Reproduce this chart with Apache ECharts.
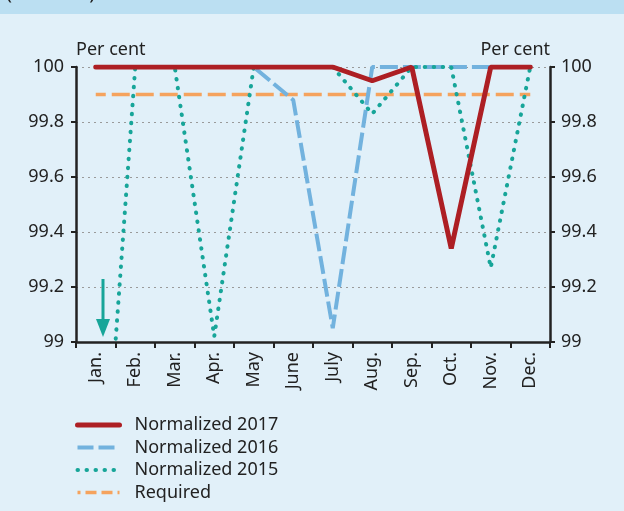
<!DOCTYPE html>
<html>
<head>
<meta charset="utf-8">
<style>
  html, body { margin: 0; padding: 0; background: #e1f0f9; }
  #chart { width: 624px; height: 511px; }
</style>
<script src="https://cdn.jsdelivr.net/npm/echarts@6/dist/echarts.min.js"></script>
</head>
<body>
<div id="chart"></div>
<script>
// 数据
var months = ['Jan.', 'Feb.', 'Mar.', 'Apr.', 'May', 'June', 'July', 'Aug.', 'Sep.', 'Oct.', 'Nov.', 'Dec.'];
var norm2017 = [100, 100, 100, 100, 100, 100, 100, 99.95, 100, 99.34, 100, 100];
var norm2016 = [100, 100, 100, 100, 100, 99.88, 99.05, 100, 100, 100, 100, 100];
var norm2015 = [98, 100, 100, 99.02, 100, 100, 100, 99.83, 100, 100, 99.27, 100];
var required = [99.9, 99.9, 99.9, 99.9, 99.9, 99.9, 99.9, 99.9, 99.9, 99.9, 99.9, 99.9];

var font = 'Noto Sans';
var chart = echarts.init(document.getElementById('chart'));

var red = '#ad1f24', blue = '#72b2de', green = '#17a599', orange = '#f5a35e';

var yAxisBase = {
    type: 'value',
    min: 99,
    max: 100,
    interval: 0.2,
    nameTextStyle: { color: '#222', fontSize: 18, fontFamily: font },
    axisLine: { show: true, lineStyle: { color: '#222', width: 2.5 } },
    axisTick: { show: true, length: 5, lineStyle: { color: '#222', width: 2 } },
    axisLabel: { color: '#222', fontSize: 18, fontFamily: font, margin: 12 },
    splitLine: { show: true, lineStyle: { color: '#9a9a9a', type: [2, 4], width: 1 } }
};

var option = {
    backgroundColor: '#e1f0f9',
    animation: false,
    grid: { left: 76, right: 74, top: 67, bottom: 169 },
    graphic: [
        { type: 'rect', left: 0, top: 0, shape: { width: 624, height: 14 }, style: { fill: '#bbdff2' } },
        { type: 'text', left: 6, top: -17, style: { text: '(Per cent)', fontSize: 20, fontFamily: font, fill: '#222' } },
        // 箭头
        { type: 'line', shape: { x1: 103, y1: 279, x2: 103, y2: 322 }, style: { stroke: green, lineWidth: 3 } },
        { type: 'polygon', shape: { points: [[96, 319], [110, 319], [103, 337]] }, style: { fill: green } }
    ],
    legend: {
        orient: 'vertical',
        left: 75,
        top: 416,
        padding: 0,
        itemWidth: 42,
        itemHeight: 14,
        itemGap: 4.5,
        itemStyle: { opacity: 0 },
        textStyle: { color: '#222', fontSize: 18, lineHeight: 18, fontFamily: font, padding: [0, 0, 0, 10] },
        data: [
            { name: 'Normalized 2017', lineStyle: { color: red, width: 5, cap: 'round' } },
            { name: 'Normalized 2016', lineStyle: { color: blue, width: 4, type: [16, 5] } },
            { name: 'Normalized 2015', lineStyle: { color: green, width: 4, type: [0.5, 8.5], cap: 'round' } },
            { name: 'Required', lineStyle: { color: orange, width: 3.5, type: [11, 5] } }
        ]
    },
    xAxis: {
        type: 'category',
        data: months,
        boundaryGap: true,
        axisLine: { lineStyle: { color: '#222', width: 2.5 } },
        axisTick: { show: true, length: 6, lineStyle: { color: '#222', width: 2 } },
        axisLabel: { color: '#222', fontSize: 18, fontFamily: font, rotate: 90, margin: 10 }
    },
    yAxis: [
        Object.assign({}, yAxisBase, {
            position: 'left',
            name: 'Per cent',
            nameGap: 8,
            nameTextStyle: Object.assign({}, yAxisBase.nameTextStyle, { align: 'left' })
        }),
        Object.assign({}, yAxisBase, {
            position: 'right',
            name: 'Per cent',
            nameGap: 8,
            nameTextStyle: Object.assign({}, yAxisBase.nameTextStyle, { align: 'right' }),
            axisLabel: Object.assign({}, yAxisBase.axisLabel, { margin: 11 }),
            splitLine: { show: false }
        })
    ],
    series: [
        {
            name: 'Required',
            type: 'line',
            data: required,
            symbol: 'none',
            z: 1,
            itemStyle: { color: orange },
            lineStyle: { color: orange, width: 3.5, type: [18, 6], dashOffset: 8 }
        },
        {
            name: 'Normalized 2016',
            type: 'line',
            data: norm2016,
            symbol: 'none',
            z: 2,
            itemStyle: { color: blue },
            lineStyle: { color: blue, width: 4, type: [18, 5] }
        },
        {
            name: 'Normalized 2015',
            type: 'line',
            data: norm2015,
            symbol: 'none',
            z: 3,
            itemStyle: { color: green },
            lineStyle: { color: green, width: 4, type: [0.5, 8.5], cap: 'round' }
        },
        {
            name: 'Normalized 2017',
            type: 'line',
            data: norm2017,
            symbol: 'none',
            z: 4,
            itemStyle: { color: red },
            lineStyle: { color: red, width: 5, cap: 'round' }
        }
    ]
};

chart.setOption(option);
</script>
</body>
</html>
